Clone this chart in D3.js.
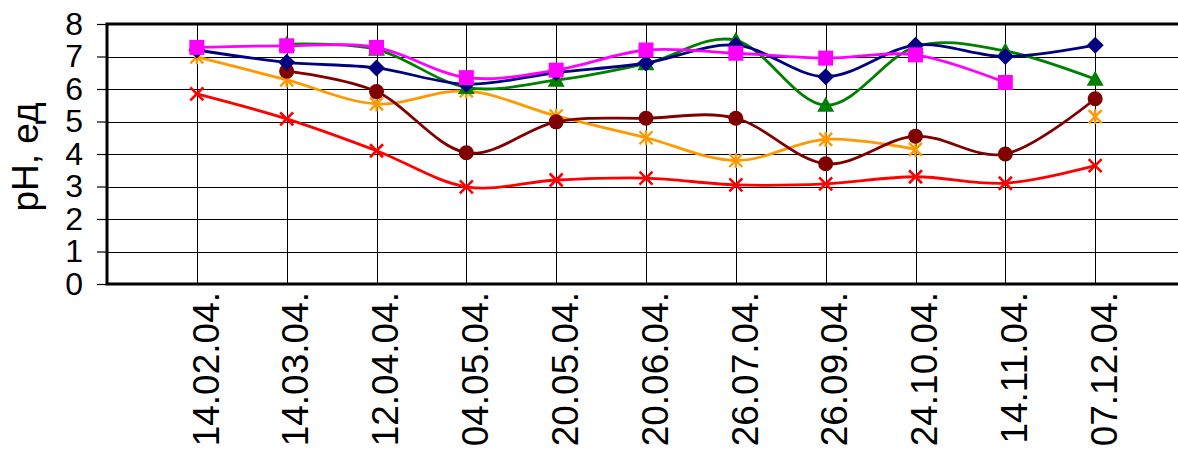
<!DOCTYPE html>
<html><head><meta charset="utf-8">
<script src="https://cdn.jsdelivr.net/npm/d3@7"></script>
<style>html,body{margin:0;padding:0;background:#fff;overflow:hidden}</style>
</head><body>
<svg id="c" width="1178" height="451"></svg>
<script>
const categories = ["14.02.04.","14.03.04.","12.04.04.","04.05.04.","20.05.04.","20.06.04.","26.07.04.","26.09.04.","24.10.04.","14.11.04.","07.12.04."];
const yTicks = [0,1,2,3,4,5,6,7,8];
const seriesNavy    = [7.2, 6.82, 6.65, 6.15, 6.5, 6.8, 7.35, 6.38, 7.35, 7.0, 7.35];
const seriesGreen   = [null, 7.38, 7.22, 6.05, 6.27, 6.78, 7.5, 5.5, 7.3, 7.17, 6.3];
const seriesMagenta = [7.28, 7.33, 7.28, 6.35, 6.58, 7.2, 7.1, 6.95, 7.05, 6.2, null];
const seriesDarkRed = [null, 6.55, 5.92, 4.04, 4.99, 5.1, 5.1, 3.7, 4.55, 4.0, 5.7];
const seriesOrange  = [6.99, 6.28, 5.54, 5.94, 5.17, 4.5, 3.8, 4.45, 4.14, null, 5.15];
const seriesRed     = [5.85, 5.08, 4.1, 2.99, 3.2, 3.26, 3.05, 3.08, 3.3, 3.1, 3.64];

const series = [
  {values: seriesRed, color: "#FF0000", marker: "x"},
  {values: seriesOrange, color: "#FF9900", marker: "star"},
  {values: seriesDarkRed, color: "#800000", marker: "circle"},
  {values: seriesGreen, color: "#008000", marker: "triangle"},
  {values: seriesNavy, color: "#000080", marker: "diamond"},
  {values: seriesMagenta, color: "#FF00FF", marker: "square"}
];

const svg = d3.select("#c");
const pLeft = 107, pRight = 1185, pTop = 24, pBottom = 284;
const FONT = "'Liberation Sans', Arial, sans-serif";

const x = d3.scalePoint().domain(categories).range([pLeft, pRight]).padding(1);
const y = d3.scaleLinear().domain([0, 8]).range([pBottom, pTop]);

// grid
const g = svg.append("g");
g.selectAll("line.h").data(yTicks.slice(1, -1)).join("line")
  .attr("x1", pLeft).attr("x2", pRight)
  .attr("y1", d => Math.round(y(d)) + 0.5).attr("y2", d => Math.round(y(d)) + 0.5)
  .attr("stroke", "#000").attr("stroke-width", 1);
g.selectAll("line.v").data(categories).join("line")
  .attr("x1", d => Math.round(x(d)) + 0.5).attr("x2", d => Math.round(x(d)) + 0.5)
  .attr("y1", pTop).attr("y2", pBottom)
  .attr("stroke", "#000").attr("stroke-width", 1);

// y axis with ticks
const yAxis = d3.axisLeft(y).tickValues(yTicks).tickSize(10).tickPadding(14);
const ya = svg.append("g").attr("transform", `translate(${pLeft},0)`).call(yAxis);
ya.select(".domain").remove();
ya.selectAll(".tick line").attr("stroke", "#000").attr("stroke-width", 1.2);
ya.selectAll(".tick text").attr("font-family", FONT).attr("font-size", 32).attr("fill", "#000");

// x axis labels
const xAxis = d3.axisBottom(x).tickSize(0).tickPadding(0);
const xa = svg.append("g").attr("transform", `translate(0,${pBottom})`).call(xAxis);
xa.select(".domain").remove();
xa.selectAll(".tick text")
  .attr("font-family", FONT).attr("font-size", 37).attr("fill", "#000")
  .attr("text-anchor", "end")
  .attr("transform", "translate(8,8) rotate(-90)")
  .attr("x", 0).attr("y", 0).attr("dy", "0.36em");

// border
svg.append("path")
  .attr("d", `M${pRight},${pTop}H${pLeft}V${pBottom}H${pRight}`)
  .attr("fill", "none").attr("stroke", "#000").attr("stroke-width", 3);

// y title
svg.append("text")
  .attr("transform", "translate(25,157) rotate(-90)")
  .attr("text-anchor", "middle").attr("dy", "0.36em")
  .attr("font-family", FONT).attr("font-size", 37).attr("fill", "#000")
  .text("pH, ед");

// series
const line = d3.line()
  .defined(d => d.v !== null)
  .x(d => x(d.c)).y(d => y(d.v))
  .curve(d3.curveCatmullRom.alpha(0));

series.forEach(s => {
  const pts = categories.map((c, i) => ({c, v: s.values[i]}));
  const sg = svg.append("g");
  sg.append("path").attr("d", line(pts))
    .attr("fill", "none").attr("stroke", s.color).attr("stroke-width", 2.8);
  pts.filter(p => p.v !== null).forEach(p => {
    const cx = x(p.c), cy = y(p.v);
    const mg = sg.append("g").attr("transform", `translate(${cx},${cy})`);
    if (s.marker === "circle") {
      mg.append("circle").attr("r", 7.5).attr("fill", s.color);
    } else if (s.marker === "square") {
      mg.append("rect").attr("x", -7.5).attr("y", -7.5).attr("width", 15).attr("height", 15).attr("fill", s.color);
    } else if (s.marker === "diamond") {
      mg.append("path").attr("d", "M0,-8.5L8.5,0L0,8.5L-8.5,0Z").attr("fill", s.color);
    } else if (s.marker === "triangle") {
      mg.append("path").attr("d", "M0,-8.5L8.5,6.5L-8.5,6.5Z").attr("fill", s.color);
    } else if (s.marker === "x") {
      mg.append("path").attr("d", "M-6.5,-6.5L6.5,6.5M-6.5,6.5L6.5,-6.5")
        .attr("stroke", s.color).attr("stroke-width", 2.6);
    } else if (s.marker === "star") {
      mg.append("path").attr("d", "M-6.5,-6.5L6.5,6.5M-6.5,6.5L6.5,-6.5M0,-7.5V7.5")
        .attr("stroke", s.color).attr("stroke-width", 2.4);
    }
  });
});
</script>
</body></html>
